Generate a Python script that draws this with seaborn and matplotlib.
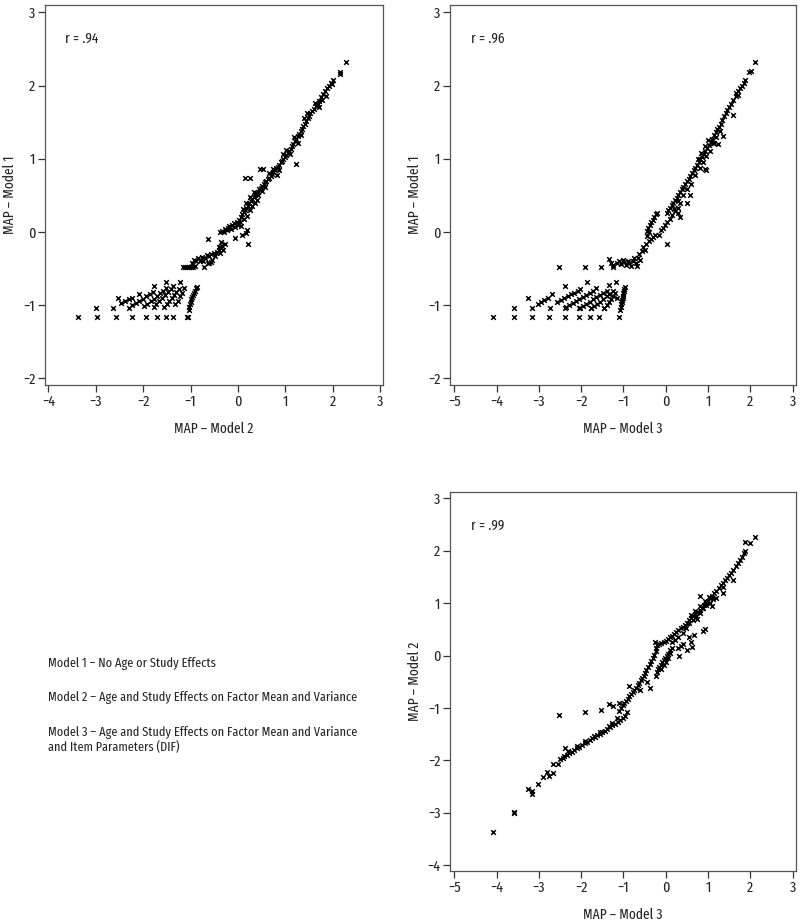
import seaborn as sns
import pandas as pd
import matplotlib.pyplot as plt

# MAP estimates: (x, y)
# panel 1: Model 2 (x) vs Model 1 (y)
pts_m2_m1 = [
    (-3.37, -1.16), (-2.97, -1.16), (-2.58, -1.16), (-2.23, -1.16), (-1.93, -1.16),
    (-1.70, -1.16), (-1.52, -1.16), (-1.38, -1.16), (-1.08, -1.16), (-1.05, -1.16),
    (-3.00, -1.04), (-2.63, -1.04), (-2.30, -1.04), (-2.54, -0.90),
    (-2.46, -0.97), (-2.38, -0.94), (-2.30, -0.92), (-2.23, -0.90),
    (-2.23, -1.00), (-2.16, -0.97), (-2.08, -0.94), (-2.00, -0.91), (-1.93, -0.88),
    (-1.86, -0.85), (-1.79, -0.82), (-1.78, -0.74), (-2.08, -0.85),
    (-1.98, -1.01), (-1.91, -0.98), (-1.84, -0.94), (-1.77, -0.91), (-1.70, -0.87),
    (-1.64, -0.84), (-1.58, -0.80), (-1.52, -0.77), (-1.51, -0.69),
    (-1.78, -1.02), (-1.72, -0.98), (-1.66, -0.94), (-1.60, -0.90), (-1.54, -0.86),
    (-1.48, -0.82), (-1.42, -0.78), (-1.36, -0.74),
    (-1.55, -1.02), (-1.50, -0.98), (-1.45, -0.94), (-1.40, -0.90), (-1.35, -0.86),
    (-1.30, -0.82), (-1.24, -0.78),
    (-1.32, -0.99), (-1.27, -0.94), (-1.22, -0.88), (-1.18, -0.83), (-1.14, -0.77),
    (-1.22, -0.69),
    (-1.04, -1.06), (-1.03, -1.02), (-1.01, -0.98), (-1.00, -0.95), (-0.98, -0.92),
    (-0.96, -0.89), (-0.94, -0.86), (-0.92, -0.83), (-0.90, -0.80), (-0.88, -0.77),
    (-0.86, -0.75),
    (-1.15, -0.48), (-1.11, -0.48), (-1.07, -0.48), (-1.03, -0.48), (-0.99, -0.48),
    (-0.95, -0.48), (-0.91, -0.47), (-0.72, -0.48),
    (-0.96, -0.42), (-0.92, -0.38), (-0.88, -0.40), (-0.84, -0.36), (-0.80, -0.39),
    (-0.76, -0.34), (-0.73, -0.40), (-0.70, -0.35), (-0.66, -0.31), (-0.64, -0.43),
    (-0.60, -0.33), (-0.57, -0.30), (-0.54, -0.38), (-0.50, -0.29), (-0.60, -0.42),
    (-0.56, -0.41), (-0.48, -0.33), (-0.63, -0.10),
    (-0.44, -0.27), (-0.40, -0.24), (-0.37, -0.21), (-0.34, -0.19), (-0.31, -0.24),
    (-0.28, -0.16), (-0.36, -0.14), (-0.40, -0.20), (-0.38, -0.29),
    (-0.38, 0.00), (-0.34, 0.01), (-0.30, 0.00), (-0.27, 0.04), (-0.24, 0.02),
    (-0.21, 0.05), (-0.18, 0.08), (-0.15, 0.04), (-0.12, 0.09), (-0.09, 0.12),
    (-0.06, 0.07), (-0.03, 0.14), (0.00, 0.10), (0.03, 0.17), (0.05, 0.13),
    (-0.06, -0.08), (0.08, -0.04), (0.16, -0.02), (0.20, 0.02), (0.22, -0.17),
    (0.15, 0.74), (0.25, 0.74), (0.46, 0.86), (0.52, 0.86), (1.22, 0.93),
    (0.06, 0.20), (0.09, 0.24), (0.12, 0.27), (0.15, 0.30), (0.18, 0.33),
    (0.21, 0.36), (0.24, 0.40), (0.27, 0.42), (0.30, 0.45), (0.33, 0.48),
    (0.36, 0.50), (0.39, 0.53), (0.42, 0.55), (0.45, 0.58), (0.48, 0.60),
    (0.51, 0.63), (0.54, 0.65), (0.57, 0.68), (0.60, 0.70), (0.63, 0.72),
    (0.66, 0.74), (0.69, 0.77), (0.72, 0.79), (0.75, 0.82), (0.78, 0.84),
    (0.81, 0.87), (0.84, 0.89), (0.87, 0.92), (0.90, 0.95), (0.93, 0.97),
    (0.96, 1.00), (0.99, 1.03), (1.02, 1.05), (1.05, 1.08), (1.08, 1.11),
    (1.11, 1.13), (1.14, 1.17), (1.17, 1.20), (1.20, 1.24), (1.23, 1.27),
    (1.26, 1.31), (1.29, 1.34), (1.32, 1.38), (1.35, 1.41), (1.38, 1.45),
    (1.41, 1.48), (1.44, 1.52), (1.47, 1.56), (1.50, 1.59), (1.53, 1.62),
    (1.56, 1.65), (1.60, 1.68), (1.64, 1.72), (1.68, 1.75), (1.72, 1.79),
    (1.76, 1.84), (1.80, 1.88), (1.84, 1.92), (1.88, 1.96), (1.92, 2.00),
    (1.96, 2.04), (2.00, 2.07),
    (0.10, 0.32), (0.18, 0.40), (0.26, 0.48), (0.34, 0.55), (0.42, 0.50),
    (0.50, 0.56), (0.58, 0.62), (0.66, 0.80), (0.74, 0.86), (0.82, 0.78),
    (0.86, 0.84), (0.94, 1.06), (1.02, 1.12), (1.10, 1.06), (1.18, 1.30),
    (1.26, 1.22), (1.34, 1.32), (1.40, 1.55), (1.46, 1.62), (1.62, 1.76),
    (1.70, 1.70), (1.78, 1.80), (1.86, 1.86), (1.98, 2.02),
    (0.25, 0.30), (0.30, 0.35), (0.35, 0.40), (0.40, 0.44), (0.20, 0.22),
    (0.12, 0.18), (0.06, 0.08),
    (2.15, 2.19), (2.16, 2.16), (2.28, 2.32),
]

# panel 2: Model 3 (x) vs Model 1 (y)
pts_m3_m1 = [
    (-4.08, -1.16), (-3.59, -1.16), (-3.15, -1.16), (-2.76, -1.16), (-2.37, -1.16),
    (-2.05, -1.16), (-1.79, -1.16), (-1.57, -1.16), (-1.10, -1.16),
    (-3.59, -1.04), (-3.15, -1.04), (-2.74, -1.04), (-2.37, -1.04), (-2.02, -1.04),
    (-1.76, -1.04), (-1.45, -1.04), (-3.25, -0.90),
    (-3.01, -0.98), (-2.94, -0.95), (-2.87, -0.93), (-2.79, -0.90), (-2.68, -0.85),
    (-2.56, -0.96), (-2.48, -0.93), (-2.40, -0.90), (-2.32, -0.88), (-2.24, -0.85),
    (-2.16, -0.83), (-2.08, -0.80), (-2.03, -0.78), (-2.37, -0.74),
    (-2.36, -1.03), (-2.28, -1.00), (-2.20, -0.97), (-2.12, -0.94), (-2.04, -0.92),
    (-1.96, -0.89), (-1.88, -0.86), (-1.80, -0.83), (-1.72, -0.80), (-1.64, -0.77),
    (-1.85, -0.68),
    (-2.04, -1.04), (-1.96, -1.01), (-1.88, -0.98), (-1.80, -0.95), (-1.72, -0.92),
    (-1.64, -0.89), (-1.56, -0.86), (-1.48, -0.83), (-1.40, -0.80),
    (-1.76, -1.04), (-1.69, -1.01), (-1.62, -0.98), (-1.55, -0.95), (-1.48, -0.92),
    (-1.40, -0.88), (-1.33, -0.85),
    (-1.45, -1.04), (-1.40, -1.00), (-1.35, -0.96), (-1.30, -0.92), (-1.25, -0.88),
    (-1.20, -0.84), (-1.33, -0.72), (-1.18, -0.68), (-1.25, -0.80), (-1.15, -0.90),
    (-1.07, -1.06), (-1.06, -1.02), (-1.05, -0.99), (-1.04, -0.96), (-1.03, -0.93),
    (-1.02, -0.90), (-1.01, -0.87), (-1.00, -0.84), (-0.99, -0.81), (-0.98, -0.78),
    (-0.97, -0.75),
    (-2.52, -0.48), (-1.92, -0.48), (-1.53, -0.48), (-1.25, -0.48),
    (-1.33, -0.37), (-1.30, -0.42), (-1.24, -0.45),
    (-1.15, -0.43), (-1.10, -0.40), (-1.06, -0.44), (-1.02, -0.38), (-0.98, -0.41),
    (-0.94, -0.45), (-0.90, -0.39), (-0.86, -0.43), (-0.82, -0.47), (-0.78, -0.40),
    (-0.74, -0.36), (-0.70, -0.42), (-0.68, -0.47), (-0.66, -0.35), (-0.62, -0.30),
    (-0.60, -0.38), (-0.56, -0.26), (-0.53, -0.20), (-0.50, -0.24),
    (-0.45, 0.01), (-0.42, 0.05), (-0.38, 0.09), (-0.35, 0.13), (-0.31, 0.17),
    (-0.27, 0.21), (-0.23, 0.24), (-0.21, 0.26), (-0.45, -0.05), (-0.40, 0.00),
    (-0.46, -0.16), (-0.40, -0.12), (-0.35, -0.10), (-0.30, -0.07), (-0.25, -0.04),
    (-0.17, -0.04), (-0.12, 0.02), (-0.07, 0.06), (-0.02, 0.10), (0.04, 0.14),
    (0.10, 0.18), (0.16, 0.23), (0.22, 0.28), (0.28, 0.33), (0.34, 0.40),
    (0.02, -0.17), (0.30, 0.26), (0.34, 0.21), (0.50, 0.40), (0.58, 0.51),
    (0.02, 0.26), (0.06, 0.30), (0.10, 0.33), (0.14, 0.37), (0.18, 0.40),
    (0.22, 0.44), (0.26, 0.47), (0.30, 0.51), (0.34, 0.55), (0.38, 0.58),
    (0.42, 0.62), (0.46, 0.65), (0.50, 0.69), (0.54, 0.72), (0.58, 0.76),
    (0.62, 0.80), (0.66, 0.84), (0.70, 0.87), (0.74, 0.91), (0.78, 0.95),
    (0.82, 0.99), (0.86, 1.03), (0.90, 1.07), (0.94, 1.11), (0.98, 1.15),
    (1.02, 1.19), (1.06, 1.23), (1.10, 1.27), (1.14, 1.32), (1.18, 1.36),
    (1.22, 1.40), (1.26, 1.44), (1.30, 1.48), (1.34, 1.53), (1.38, 1.58),
    (1.42, 1.62), (1.46, 1.67), (1.50, 1.71), (1.55, 1.75), (1.60, 1.80),
    (1.65, 1.86), (1.70, 1.92), (1.75, 1.96), (1.80, 2.00), (1.85, 2.04),
    (1.88, 2.08),
    (0.20, 0.32), (0.30, 0.42), (0.40, 0.50), (0.50, 0.58), (0.60, 0.66),
    (0.70, 0.78), (0.80, 0.88), (0.88, 0.96), (0.96, 1.04), (1.04, 1.10),
    (1.12, 1.22), (0.76, 1.00), (0.84, 1.08), (0.92, 1.18), (1.00, 1.26),
    (1.20, 1.30), (1.28, 1.38),
    (0.93, 0.86), (1.23, 1.20), (1.36, 1.31), (1.60, 1.60), (1.72, 1.87),
    (1.66, 1.90), (1.97, 2.18), (2.02, 2.20), (2.11, 2.32), (0.95, 0.85),
    (1.15, 1.22),
]

# panel 3: Model 3 (x) vs Model 2 (y)
pts_m3_m2 = [
    (-4.08, -3.36), (-3.59, -2.98), (-3.58, -3.00), (-3.25, -2.54), (-3.15, -2.58),
    (-3.15, -2.64), (-3.01, -2.45), (-2.89, -2.31), (-2.80, -2.22), (-2.75, -2.30),
    (-2.67, -2.24), (-2.67, -2.06), (-2.54, -2.06), (-2.37, -1.77),
    (-2.50, -1.97), (-2.44, -1.95), (-2.40, -1.92), (-2.34, -1.90), (-2.28, -1.86),
    (-2.22, -1.84), (-2.16, -1.80), (-2.10, -1.77), (-2.04, -1.74), (-1.98, -1.71),
    (-1.92, -1.67), (-1.86, -1.64), (-1.80, -1.61), (-1.74, -1.58), (-1.68, -1.55),
    (-1.62, -1.52), (-1.56, -1.49), (-1.50, -1.46), (-1.44, -1.43), (-1.38, -1.40),
    (-1.32, -1.36), (-1.26, -1.33), (-1.20, -1.30), (-1.14, -1.26), (-1.08, -1.23),
    (-1.02, -1.19), (-0.96, -1.15), (-0.92, -1.08),
    (-2.30, -1.82), (-2.10, -1.73), (-1.90, -1.62), (-1.70, -1.54), (-1.55, -1.45),
    (-1.35, -1.35), (-1.28, -1.28), (-1.15, -1.20),
    (-2.52, -1.13), (-1.92, -1.07), (-1.53, -1.03), (-1.33, -0.93), (-1.25, -0.96),
    (-1.10, -0.90),
    (-1.10, -1.05), (-1.06, -1.00), (-1.02, -0.95), (-0.98, -0.90), (-0.94, -0.86),
    (-0.90, -0.82), (-0.86, -0.78), (-0.82, -0.74), (-0.78, -0.70), (-0.74, -0.66),
    (-0.70, -0.62), (-0.66, -0.57), (-0.62, -0.52), (-0.58, -0.47), (-0.55, -0.43),
    (-0.52, -0.38), (-0.50, -0.33), (-0.46, -0.28), (-0.42, -0.22), (-0.38, -0.16),
    (-0.34, -0.10), (-0.30, -0.04), (-0.27, 0.02), (-0.24, 0.08), (-0.22, 0.14),
    (-0.20, 0.20), (-0.25, 0.25),
    (-0.86, -0.58), (-0.37, -0.62), (-0.60, -0.65), (-0.45, -0.50),
    (-0.22, -0.38), (-0.20, -0.32), (-0.18, -0.26), (-0.15, -0.22), (-0.12, -0.17),
    (-0.08, -0.12), (-0.05, -0.08), (-0.02, -0.04), (0.02, 0.00), (0.06, 0.03),
    (0.10, 0.05), (-0.10, -0.25), (-0.05, -0.18), (0.00, -0.12), (0.05, -0.05),
    (0.10, 0.10), (0.15, 0.15),
    (-0.15, 0.22), (-0.10, 0.24), (-0.05, 0.26), (0.00, 0.28), (0.05, 0.31),
    (0.10, 0.35), (0.15, 0.38), (0.20, 0.42), (0.25, 0.45), (0.30, 0.48),
    (0.35, 0.52), (0.40, 0.55), (0.45, 0.59), (0.50, 0.63), (0.55, 0.67),
    (0.60, 0.71), (0.65, 0.75), (0.70, 0.79), (0.75, 0.83), (0.80, 0.87),
    (0.85, 0.91), (0.90, 0.96), (0.95, 1.00), (1.00, 1.04), (1.05, 1.09),
    (1.10, 1.14), (1.15, 1.19), (1.20, 1.24), (1.25, 1.29), (1.30, 1.34),
    (1.35, 1.39), (1.40, 1.44), (1.45, 1.48), (1.50, 1.53), (1.55, 1.58),
    (1.60, 1.63), (1.65, 1.70), (1.70, 1.76), (1.75, 1.82), (1.80, 1.88),
    (1.85, 1.95), (1.88, 2.00),
    (0.15, 0.25), (0.22, 0.30), (0.30, 0.36), (0.40, 0.44), (0.48, 0.52),
    (0.56, 0.62), (0.64, 0.68), (0.72, 0.76), (0.80, 0.82), (0.88, 0.90),
    (0.96, 0.96), (1.04, 1.00), (1.12, 1.08), (0.60, 0.78), (0.70, 0.86),
    (0.82, 0.95), (0.92, 1.05), (1.02, 1.12), (0.80, 1.13), (1.35, 1.20),
    (1.35, 1.30), (1.60, 1.45), (1.88, 2.16), (1.99, 2.15), (2.11, 2.27),
    (0.32, 0.00), (0.50, 0.11), (0.59, 0.25), (0.62, 0.16), (0.89, 0.46),
    (0.93, 0.50), (0.68, 0.40), (0.75, 0.70), (0.40, 0.22), (0.35, 0.18),
    (0.30, 0.15), (0.55, 0.35), (1.10, 0.95), (1.20, 1.10),
]

corr_labels = ["r = .94", "r = .96", "r = .99"]
notes = [
    "Model 1 \u2013 No Age or Study Effects",
    "Model 2 \u2013 Age and Study Effects on Factor Mean and Variance",
    "Model 3 \u2013 Age and Study Effects on Factor Mean and Variance\nand Item Parameters (DIF)",
]

sns.set_style("ticks")
plt.rcParams["font.family"] = ["Fira Sans Extra Condensed", "DejaVu Sans"]

fig = plt.figure(figsize=(8, 9.23), dpi=100)
ax1 = fig.add_axes([0.05625, 0.5829, 0.4225, 0.4117])
ax2 = fig.add_axes([0.5625, 0.5829, 0.4325, 0.4117])
ax3 = fig.add_axes([0.5625, 0.0563, 0.4325, 0.4106])

panels = [
    (ax1, pts_m2_m1, "MAP \u2013 Model 2", "MAP \u2013 Model 1", (-4.07, 3.06), (-2.09, 3.10), range(-4, 4), range(-2, 4)),
    (ax2, pts_m3_m1, "MAP \u2013 Model 3", "MAP \u2013 Model 1", (-5.10, 3.08), (-2.09, 3.10), range(-5, 4), range(-2, 4)),
    (ax3, pts_m3_m2, "MAP \u2013 Model 3", "MAP \u2013 Model 2", (-5.10, 3.08), (-4.11, 3.12), range(-5, 4), range(-4, 4)),
]

for (ax, pts, xl, yl, xlim, ylim, xt, yt), r in zip(panels, corr_labels):
    df = pd.DataFrame(pts, columns=["x", "y"])
    sns.scatterplot(data=df, x="x", y="y", ax=ax, marker="x", color="black",
                    s=11, linewidth=1.1)
    ax.set_xlim(*xlim)
    ax.set_ylim(*ylim)
    ax.set_xticks(list(xt))
    ax.set_yticks(list(yt))
    ax.set_xticklabels([str(v).replace("-", "\u2212") for v in xt])
    ax.set_yticklabels([str(v).replace("-", "\u2212") for v in yt])
    ax.set_xlabel(xl, fontsize=10.5, labelpad=9)
    ax.set_ylabel(yl, fontsize=10.5, labelpad=4)
    ax.tick_params(labelsize=11, length=5, width=0.9, color="#333333", pad=2)
    for sp in ax.spines.values():
        sp.set_visible(True)
        sp.set_color("#555555")
        sp.set_linewidth(0.9)
    ax.text(0.06, 0.91, r, transform=ax.transAxes, fontsize=10.5, va="center")

fig.text(48 / 800, 1 - 664 / 923, notes[0], fontsize=9.6, va="center")
fig.text(48 / 800, 1 - 698 / 923, notes[1], fontsize=9.6, va="center")
fig.text(48 / 800, 1 - 740 / 923, notes[2], fontsize=9.6, va="center", linespacing=1.25)

fig.savefig("out.png", dpi=100)
